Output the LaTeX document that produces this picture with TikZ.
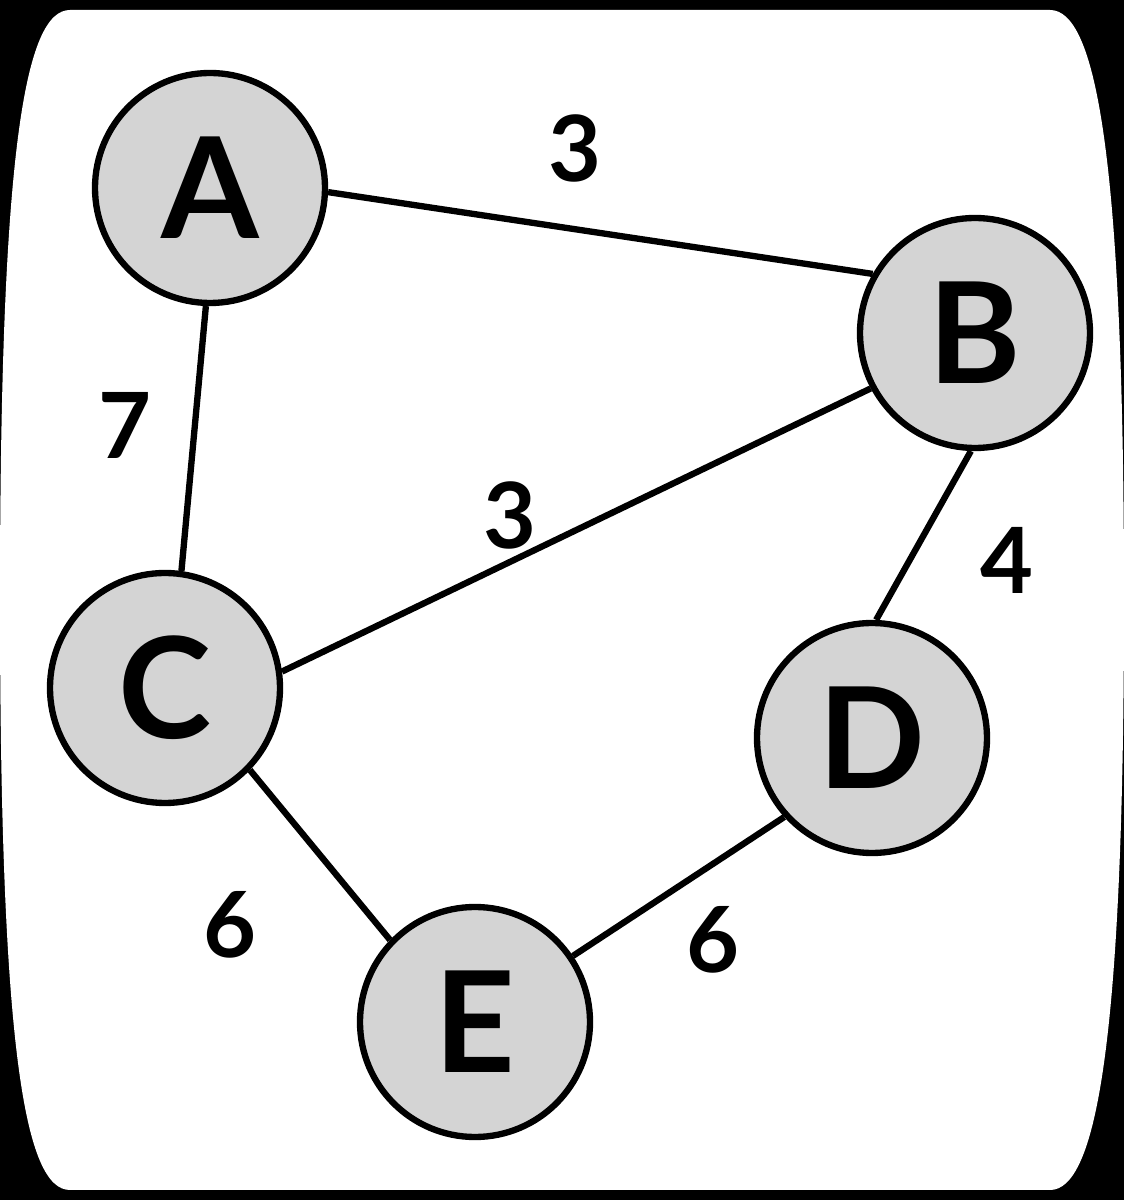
\documentclass[tikz,border=0pt]{standalone}
\usepackage{fontspec}
\setmainfont{Lato}
\tikzset{
	vertex/.style={circle, draw=black, line width=1.8pt, fill=black!17, minimum size=2.3cm, inner sep=0pt, font=\fontsize{40}{40}\selectfont\bfseries},
	weight/.style={black, font=\fontsize{26}{26}\selectfont\bfseries},
	edge/.style={draw=black, line width=1.8pt}
}
\begin{document}
\begin{tikzpicture}
		\useasboundingbox (0,0) rectangle (11.24,12.00);
		\fill[black] (0,0) rectangle (11.24,12.00);
		\fill[white] (0.70,11.90) -- (10.50,11.90) .. controls (10.95,11.90) and (11.24,10.50) .. (11.24,6.00) .. controls (11.24,1.50) and (10.95,0.10) .. (10.50,0.10) -- (0.70,0.10) .. controls (0.25,0.10) and (0,1.50) .. (0,6.00) .. controls (0,10.50) and (0.25,11.90) .. (0.70,11.90) -- cycle;
		\node[vertex] (A) at (2.10,10.12) {A};
		\node[vertex] (B) at (9.75,8.67) {B};
		\node[vertex] (C) at (1.65,5.12) {C};
		\node[vertex] (D) at (8.72,4.62) {D};
		\node[vertex] (E) at (4.75,1.78) {E};
		\draw[edge] (A.-2) -- (B.150);
		\draw[edge] (A.-92) -- (C.82);
		\draw[edge] (C.8) -- (B.-152);
		\draw[edge] (B.-92) -- (D.88);
		\draw[edge] (C.-44) -- (E.136);
		\draw[edge] (E.34) -- (D.-138);
		\node[weight] (wab) at (5.75,10.52) {3};
		\node[weight] (wac) at (1.25,7.75) {7};
		\node[weight] (wcb) at (5.10,6.85) {3};
		\node[weight] (wbd) at (10.07,6.40) {4};
		\node[weight] (wce) at (2.30,2.75) {6};
		\node[weight] (wed) at (7.13,2.60) {6};
	\end{tikzpicture}
\end{document}
